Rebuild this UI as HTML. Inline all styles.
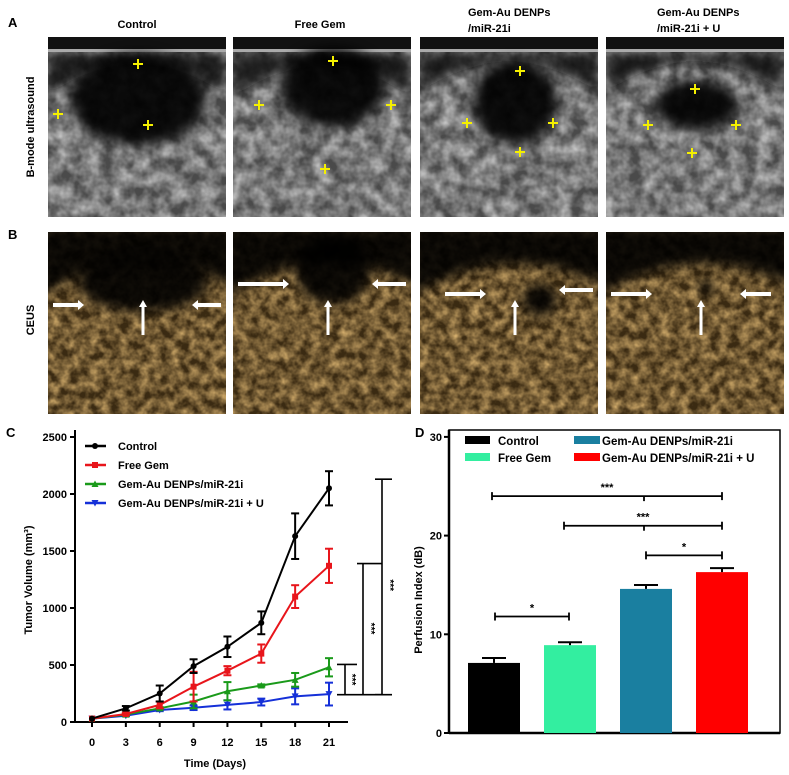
<!DOCTYPE html>
<html><head><meta charset="utf-8"><style>
body{margin:0;background:#fff;width:789px;height:775px;overflow:hidden;font-family:"Liberation Sans",sans-serif;}
svg{position:absolute;left:0;top:0}
text{font-family:"Liberation Sans",sans-serif;font-weight:bold}
</style></head><body>
<svg id="fig" width="789" height="775" viewBox="0 0 789 775" xmlns="http://www.w3.org/2000/svg">
<defs>
<filter id="grayNoise" x="0" y="0" width="100%" height="100%">
<feTurbulence type="fractalNoise" baseFrequency="0.07" numOctaves="3" seed="3"/>
<feColorMatrix type="matrix" values="0 0 0 0 0.8  0 0 0 0 0.8  0 0 0 0 0.8  1.2 0 0 0 -0.3"/>
</filter>
<filter id="orNoise" x="0" y="0" width="100%" height="100%">
<feTurbulence type="fractalNoise" baseFrequency="0.1" numOctaves="3" seed="7"/>
<feColorMatrix type="matrix" values="0 0 0 0 0.85  0 0 0 0 0.55  0 0 0 0 0.2  1.3 0 0 0 -0.35"/>
</filter>
<filter id="blur" x="-50%" y="-50%" width="200%" height="200%"><feGaussianBlur stdDeviation="6"/></filter>
<clipPath id="ca0"><rect x="48" y="37" width="178" height="180"/></clipPath>
<clipPath id="ca1"><rect x="233" y="37" width="178" height="180"/></clipPath>
<clipPath id="ca2"><rect x="420" y="37" width="178" height="180"/></clipPath>
<clipPath id="ca3"><rect x="606" y="37" width="178" height="180"/></clipPath>
<clipPath id="cb0"><rect x="48" y="232" width="178" height="182"/></clipPath>
<clipPath id="cb1"><rect x="233" y="232" width="178" height="182"/></clipPath>
<clipPath id="cb2"><rect x="420" y="232" width="178" height="182"/></clipPath>
<clipPath id="cb3"><rect x="606" y="232" width="178" height="182"/></clipPath>
</defs>
<g id="panelA"></g>
<g id="panelB"></g>
<g id="chartC"></g>
<g id="chartD"></g>
</svg>
<script>
// ---- Chart C data ----
const days = [0,3,6,9,12,15,18,21];
const controlVals = [30,120,250,490,660,870,1630,2050];
const controlErr  = [0,20,70,60,90,100,200,150];
const freeGemVals = [30,70,150,310,450,600,1100,1370];
const freeGemErr  = [0,10,30,130,40,80,100,150];
const denpVals = [30,65,120,180,270,320,370,480];
const denpErr  = [0,10,10,60,80,10,60,80];
const denpUVals = [30,55,105,125,150,175,225,245];
const denpUErr  = [0,5,10,20,40,30,70,100];
const yTicksC = [0,500,1000,1500,2000,2500];
// ---- Chart D data ----
const groupsD = ["Control","Free Gem","Gem-Au DENPs/miR-21i","Gem-Au DENPs/miR-21i + U"];
const perfVals = [7.1,8.9,14.6,16.3];
const perfErr = [0.5,0.3,0.4,0.4];
const yTicksD = [0,10,20,30];

const NS="http://www.w3.org/2000/svg";
function mk(parent,tag,attrs,txt){const e=document.createElementNS(NS,tag);for(const k in attrs)e.setAttribute(k,attrs[k]);if(txt!==undefined)e.textContent=txt;parent.appendChild(e);return e;}
const fig=document.getElementById('fig');

let t;
t=mk(fig,'text',{x:8,y:27,'font-size':13});t.textContent='A';


t=mk(fig,'text',{x:8,y:239,'font-size':13});t.textContent='B';


t=mk(fig,'text',{x:6,y:437,'font-size':13});t.textContent='C';


t=mk(fig,'text',{x:415,y:437,'font-size':13});t.textContent='D';


const heads=[[137,'middle',['Control']],[320,'middle',['Free Gem']],[468,'start',['Gem-Au DENPs','/miR-21i']],[657,'start',['Gem-Au DENPs','/miR-21i + U']]];
heads.forEach((h,i)=>{h[2].forEach((s,j)=>{const y=h[2].length===1?28:(16+j*16);const e=mk(fig,'text',{x:h[0],y:y,'font-size':11,'text-anchor':h[1]},s);

});});
t=mk(fig,'text',{x:0,y:0,'font-size':11,'text-anchor':'middle',transform:'translate(34,127) rotate(-90)'},'B-mode ultrasound');


t=mk(fig,'text',{x:0,y:0,'font-size':11,'text-anchor':'middle',transform:'translate(34,320) rotate(-90)'},'CEUS');



// ---- Images ----
const colsX=[48,233,420,606], W=178;
const A=document.getElementById('panelA'), B=document.getElementById('panelB');
const tumorsA=[[90,62,68,46],[100,50,52,40],[95,65,42,42],[90,68,42,25]];
const crossA=[[[90,27],[10,77],[190,77],[100,88]],[[100,24],[26,68],[158,68],[92,132]],[[100,34],[47,86],[133,86],[100,115]],[[89,52],[42,88],[130,88],[86,116]]];
const capA=[[60,55,85],[55,50,90],[50,60,80],[40,60,80]];
colsX.forEach((x,i)=>{
  const g=mk(A,'g',{'clip-path':`url(#ca${i})`});
  
  
  mk(g,'rect',{x:x,y:37,width:W,height:180,fill:'#4a4a4a'});
  mk(g,'rect',{x:x,y:37,width:W,height:180,fill:'#fff',filter:'url(#grayNoise)'});
  // dark corners above tumor
  mk(g,'path',{d:`M${x},52 L${x+W},52 L${x+W},${52+capA[i][2]/2} Q${x+W/2},${52-capA[i][1]/3} ${x},${52+capA[i][2]/2} Z`,fill:'#0a0a0a',opacity:0.85,filter:'url(#blur)'});
  mk(g,'rect',{x:x,y:37,width:W,height:13,fill:'#111'});
  mk(g,'rect',{x:x,y:49,width:W,height:3,fill:'#aaa'});
  const tm=tumorsA[i];
  mk(g,'ellipse',{cx:x+tm[0],cy:37+tm[1],rx:tm[2],ry:tm[3],fill:'#050505',opacity:0.92,filter:'url(#blur)'});
  crossA[i].forEach(c=>{
    mk(g,'path',{d:`M${x+c[0]-5},${37+c[1]} h10 M${x+c[0]},${37+c[1]-5} v10`,stroke:'#f5f000','stroke-width':2});
  });
});
const tumorsB=[[95,50,65,30],[100,38,38,34],[120,68,18,16],[100,55,8,8]];
const arrowsB=[[[5,73,30],[173,73,150]],[[5,52,50],[173,52,145]],[[25,62,60],[173,58,145]],[[5,62,40],[165,62,140]]];
colsX.forEach((x,i)=>{
  const g=mk(B,'g',{'clip-path':`url(#cb${i})`});
  
  
  mk(g,'rect',{x:x,y:232,width:W,height:182,fill:'#3a2a12'});
  mk(g,'rect',{x:x,y:232,width:W,height:182,fill:'#fff',filter:'url(#orNoise)'});
  const tm=tumorsB[i];
  mk(g,'path',{d:`M${x-10},225 L${x+W+10},225 L${x+W+10},${232+55} Q${x+W/2},${232+5} ${x-10},${232+65} Z`,fill:'#000',opacity:0.9,filter:'url(#blur)'});
  mk(g,'ellipse',{cx:x+tm[0],cy:232+tm[1],rx:tm[2],ry:tm[3],fill:'#000',opacity:0.9,filter:'url(#blur)'});
  mk(g,'line',{x1:x+95,y1:335,x2:x+95,y2:305,stroke:'#fff','stroke-width':3});
  mk(g,'polygon',{points:`${x+95},300 ${x+91},307 ${x+99},307`,fill:'#fff'});
  arrowsB[i].forEach(a=>{
    const x1=x+a[0], x2=x+a[2], y=232+a[1];
    mk(g,'line',{x1:x1,y1:y,x2:x2,y2:y,stroke:'#fff','stroke-width':4});
    const d=x2>x1?1:-1;
    mk(g,'polygon',{points:`${x2+d*6},${y} ${x2},${y-5} ${x2},${y+5}`,fill:'#fff'});
  });
});

// ---- Chart C ----
const C=document.getElementById('chartC');
const xC=d=>92+d*(237/21), yC=v=>722-v*0.114;
mk(C,'line',{x1:75,y1:430,x2:75,y2:722,stroke:'#000','stroke-width':2});
mk(C,'line',{x1:75,y1:722,x2:348,y2:722,stroke:'#000','stroke-width':2});
yTicksC.forEach(v=>{mk(C,'line',{x1:70,y1:yC(v),x2:75,y2:yC(v),stroke:'#000','stroke-width':2});
const e=mk(C,'text',{x:67,y:yC(v)+4,'font-size':11,'text-anchor':'end'},String(v));

});
days.forEach(d=>{mk(C,'line',{x1:xC(d),y1:722,x2:xC(d),y2:727,stroke:'#000','stroke-width':2});
const e=mk(C,'text',{x:xC(d),y:746,'font-size':11,'text-anchor':'middle'},String(d));

});
t=mk(C,'text',{x:215,y:767,'font-size':11,'text-anchor':'middle'},'Time (Days)');


t=mk(C,'text',{x:0,y:0,'font-size':11,'text-anchor':'middle',transform:'translate(32,580) rotate(-90)'},'Tumor Volume (mm³)');


const seriesC=[[controlVals,controlErr,'#000','circle','Control'],[freeGemVals,freeGemErr,'#e8151b','square','Free Gem'],[denpVals,denpErr,'#1a9a1a','tri','Gem-Au DENPs/miR-21i'],[denpUVals,denpUErr,'#1530d8','itri','Gem-Au DENPs/miR-21i + U']];
function marker(g,sh,x,y,c){
  if(sh==='circle')return mk(g,'circle',{cx:x,cy:y,r:3,fill:c});
  if(sh==='square')return mk(g,'rect',{x:x-3,y:y-3,width:6,height:6,fill:c});
  if(sh==='tri')return mk(g,'polygon',{points:`${x},${y-3.5} ${x-3.5},${y+3} ${x+3.5},${y+3}`,fill:c});
  return mk(g,'polygon',{points:`${x},${y+3.5} ${x-3.5},${y-3} ${x+3.5},${y-3}`,fill:c});
}
seriesC.slice().reverse().forEach(s=>{
  const g=mk(C,'g',{});
  
  
  mk(g,'polyline',{points:days.map((d,i)=>xC(d)+','+yC(s[0][i])).join(' '),fill:'none',stroke:s[2],'stroke-width':2});
  days.forEach((d,i)=>{
    const e=s[1][i];
    if(e>0){const x=xC(d);
      mk(g,'line',{x1:x,y1:yC(s[0][i]-e),x2:x,y2:yC(s[0][i]+e),stroke:s[2],'stroke-width':2});
      mk(g,'line',{x1:x-4,y1:yC(s[0][i]+e),x2:x+4,y2:yC(s[0][i]+e),stroke:s[2],'stroke-width':2});
      mk(g,'line',{x1:x-4,y1:yC(s[0][i]-e),x2:x+4,y2:yC(s[0][i]-e),stroke:s[2],'stroke-width':2});}
    const m=marker(g,s[3],xC(d),yC(s[0][i]),s[2]);
    
    
  });
});
seriesC.forEach((s,i)=>{
  const y=446+i*19;
  const g=mk(C,'g',{});
  
  
  mk(g,'line',{x1:85,y1:y,x2:106,y2:y,stroke:s[2],'stroke-width':2.5});
  marker(g,s[3],95,y,s[2]);
  mk(g,'text',{x:118,y:y+4,'font-size':11},s[4]);
});
function brC(x,y1,y2,capL,capR){
  const g=mk(C,'g',{stroke:'#000','stroke-width':1.6});
  
  
  mk(g,'line',{x1:x,y1:yC(y1),x2:x,y2:yC(y2)});
  mk(g,'line',{x1:capL,y1:yC(y1),x2:capR,y2:yC(y1)});
  mk(g,'line',{x1:capL,y1:yC(y2),x2:capR,y2:yC(y2)});
}
brC(345,240,505,337,357);brC(363,240,1390,357,382);brC(382,240,2130,375,392);
[[349,372],[368,820],[387,1200]].forEach(p=>{const e=mk(C,'text',{x:0,y:0,'font-size':10,'text-anchor':'middle',transform:`translate(${p[0]},${yC(p[1])}) rotate(90)`},'***');

});

// ---- Chart D ----
const D=document.getElementById('chartD');
const yD=v=>733-v*9.87, barX=[468,544,620,696], barW=52;
const barCol=['#000','#33eea0','#1a7fa0','#ff0000'];
mk(D,'rect',{x:449,y:430,width:331,height:303,fill:'none',stroke:'#000','stroke-width':1.5});
mk(D,'line',{x1:449,y1:733,x2:780,y2:733,stroke:'#000','stroke-width':2.5});
mk(D,'line',{x1:449,y1:430,x2:449,y2:733,stroke:'#000','stroke-width':2.5});
yTicksD.forEach(v=>{mk(D,'line',{x1:444,y1:yD(v),x2:449,y2:yD(v),stroke:'#000','stroke-width':2});
const e=mk(D,'text',{x:442,y:yD(v)+4,'font-size':11,'text-anchor':'end'},String(v));

});
t=mk(D,'text',{x:0,y:0,'font-size':11,'text-anchor':'middle',transform:'translate(422,600) rotate(-90)'},'Perfusion Index  (dB)');


perfVals.forEach((v,i)=>{
  const cx=barX[i]+barW/2;
  const r=mk(D,'rect',{x:barX[i],y:yD(v),width:barW,height:yD(0)-yD(v),fill:barCol[i]});
  
  
  mk(D,'line',{x1:cx,y1:yD(v),x2:cx,y2:yD(v+perfErr[i]),stroke:'#000','stroke-width':2});
  mk(D,'line',{x1:cx-12,y1:yD(v+perfErr[i]),x2:cx+12,y2:yD(v+perfErr[i]),stroke:'#000','stroke-width':2});
});
const legD=[[465,441,0],[465,458,1],[574,441,2],[574,458,3]];
legD.forEach(l=>{const g=mk(D,'g',{});


mk(g,'rect',{x:l[0],y:l[1]-5,width:l[2]<2?25:26,height:8,fill:barCol[l[2]]});
mk(g,'text',{x:l[0]+(l[2]<2?33:28),y:l[1]+4,'font-size':11.5},groupsD[l[2]]);});
function brD(x1,x2,v,mid,lab){
  const g=mk(D,'g',{stroke:'#000','stroke-width':1.8});
  
  
  const y=yD(v);
  mk(g,'line',{x1:x1,y1:y,x2:x2,y2:y});
  mk(g,'line',{x1:x1,y1:y-4,x2:x1,y2:y+4});
  mk(g,'line',{x1:x2,y1:y-4,x2:x2,y2:y+4});
  if(mid) mk(g,'line',{x1:mid,y1:y,x2:mid,y2:y+5});
  const e=mk(D,'text',{x:(x1+x2)/2,y:y-5,'font-size':11,'text-anchor':'middle'},lab);
  
  
}
brD(492,722,24,644,'***');brD(564,722,21,644,'***');brD(646,722,18,null,'*');brD(495,569,11.8,null,'*');
</script>
</body></html>
